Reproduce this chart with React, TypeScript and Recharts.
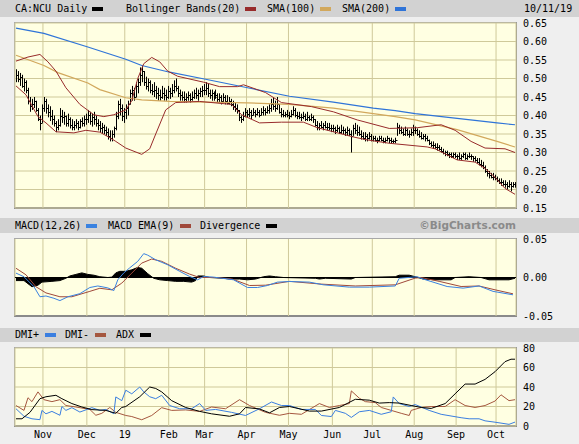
import React from 'react';
import { ComposedChart, Bar, Line, Area, XAxis, YAxis, CartesianGrid, ReferenceLine } from 'recharts';

type Ohlc = [number, number, number]; // high, low, close
type Pt = [number, number]; // trading-day index, value

const barsOct18: Ohlc[] = [[.525,.49,.51],[.52,.49,.50],[.515,.48,.505],[.51,.475,.48],[.50,.465,.49],[.495,.46,.47],[.475,.43,.44],[.45,.41,.425],[.445,.415,.43],[.45,.42,.44],[.44,.41,.415],[.42,.385,.39],[.40,.36,.38],[.43,.38,.42]];
const barsNov18: Ohlc[] = [[.45,.41,.44],[.445,.405,.42],[.43,.395,.41],[.425,.385,.40],[.415,.375,.39],[.40,.37,.38],[.385,.355,.37],[.39,.36,.375],[.42,.37,.40],[.415,.38,.395],[.41,.375,.40],[.40,.37,.38],[.405,.37,.39],[.395,.365,.375],[.39,.36,.37],[.385,.36,.375],[.39,.365,.38],[.385,.36,.37],[.39,.365,.385],[.395,.37,.38],[.40,.37,.39],[.405,.375,.39]];
const barsDec18: Ohlc[] = [[.415,.38,.40],[.41,.375,.385],[.405,.37,.395],[.41,.375,.39],[.40,.37,.38],[.39,.36,.375],[.385,.355,.365],[.38,.35,.37],[.375,.35,.36],[.37,.345,.355],[.365,.335,.345],[.36,.33,.34],[.36,.33,.35],[.37,.34,.365],[.41,.36,.40],[.44,.39,.43],[.445,.40,.42],[.43,.385,.40],[.42,.38,.41]];
const barsJan19: Ohlc[] = [[.43,.39,.42],[.44,.40,.43],[.47,.43,.46],[.48,.44,.47],[.475,.44,.45],[.49,.45,.48],[.50,.46,.49],[.53,.48,.51],[.535,.49,.52],[.52,.48,.49],[.505,.47,.48],[.50,.465,.49],[.495,.46,.47],[.485,.455,.465],[.49,.45,.47],[.48,.445,.46],[.475,.44,.455],[.47,.44,.45],[.48,.445,.46],[.475,.44,.455],[.47,.44,.45],[.48,.445,.465]];
const barsFeb19: Ohlc[] = [[.475,.445,.46],[.485,.45,.47],[.495,.46,.48],[.50,.465,.475],[.48,.45,.46],[.47,.44,.455],[.465,.44,.45],[.465,.435,.445],[.46,.435,.45],[.465,.44,.455],[.46,.435,.445],[.465,.44,.45],[.47,.445,.46],[.475,.445,.455],[.47,.44,.46],[.475,.45,.465],[.48,.45,.47],[.485,.455,.47]];
const barsMar19: Ohlc[] = [[.49,.455,.475],[.485,.45,.46],[.47,.445,.455],[.47,.44,.46],[.465,.44,.45],[.47,.445,.455],[.46,.435,.445],[.46,.435,.45],[.455,.43,.44],[.46,.435,.45],[.455,.43,.44],[.455,.43,.435],[.45,.43,.44],[.445,.425,.43],[.44,.415,.425],[.435,.41,.42],[.43,.405,.415],[.415,.385,.395],[.40,.38,.39],[.41,.385,.40],[.42,.395,.41]];
const barsApr19: Ohlc[] = [[.415,.395,.405],[.42,.395,.41],[.415,.39,.40],[.42,.40,.41],[.415,.395,.405],[.42,.40,.41],[.415,.395,.40],[.42,.40,.41],[.425,.40,.415],[.42,.40,.41],[.425,.405,.415],[.43,.405,.42],[.445,.41,.43],[.45,.415,.425],[.44,.41,.42],[.45,.415,.43],[.43,.405,.41],[.42,.395,.405],[.415,.395,.40],[.41,.395,.405],[.415,.395,.40]];
const barsMay19: Ohlc[] = [[.41,.39,.40],[.415,.395,.405],[.425,.40,.415],[.42,.395,.40],[.41,.39,.40],[.41,.39,.395],[.405,.385,.395],[.41,.39,.40],[.405,.385,.39],[.41,.385,.395],[.40,.385,.39],[.405,.385,.395],[.40,.38,.39],[.39,.37,.375],[.385,.36,.37],[.38,.36,.375],[.385,.365,.37],[.38,.36,.375],[.385,.365,.37],[.38,.36,.37],[.38,.36,.365],[.375,.355,.365]];
const barsJun19: Ohlc[] = [[.375,.355,.365],[.37,.35,.36],[.375,.355,.365],[.37,.35,.355],[.375,.35,.36],[.37,.35,.36],[.365,.345,.355],[.37,.345,.36],[.365,.345,.35],[.36,.30,.345],[.375,.345,.365],[.38,.35,.36],[.375,.345,.355],[.37,.345,.35],[.36,.335,.345],[.355,.335,.34],[.355,.33,.345],[.35,.33,.34],[.355,.335,.345],[.35,.33,.335]];
const barsJul19: Ohlc[] = [[.345,.33,.34],[.345,.33,.335],[.34,.325,.335],[.345,.33,.34],[.345,.33,.335],[.34,.325,.33],[.34,.325,.335],[.345,.33,.34],[.34,.325,.335],[.34,.325,.33],[.335,.325,.33],[.34,.325,.335],[.38,.345,.37],[.375,.35,.36],[.37,.35,.355],[.365,.345,.35],[.37,.345,.36],[.365,.345,.35],[.36,.34,.35],[.365,.345,.355],[.375,.345,.36]];
const barsAug19: Ohlc[] = [[.37,.35,.36],[.365,.345,.35],[.36,.34,.345],[.355,.335,.34],[.35,.335,.345],[.35,.33,.34],[.345,.33,.335],[.335,.32,.325],[.33,.315,.32],[.33,.31,.32],[.325,.31,.315],[.325,.305,.315],[.32,.305,.31],[.315,.30,.305],[.31,.295,.30],[.305,.29,.30],[.305,.29,.295],[.30,.285,.295],[.30,.285,.29],[.30,.285,.295],[.30,.285,.29]];
const barsSep19: Ohlc[] = [[.295,.28,.29],[.30,.28,.285],[.295,.28,.29],[.30,.285,.295],[.30,.28,.285],[.295,.28,.29],[.30,.285,.29],[.295,.28,.29],[.29,.275,.285],[.29,.275,.28],[.285,.27,.275],[.285,.265,.27],[.28,.26,.265],[.275,.255,.26],[.265,.245,.25],[.255,.235,.245],[.25,.23,.24],[.245,.23,.235],[.245,.225,.235],[.24,.225,.23]];
const barsOct19: Ohlc[] = [[.235,.22,.225],[.23,.215,.22],[.23,.21,.22],[.225,.21,.215],[.225,.205,.215],[.22,.20,.21],[.225,.205,.215],[.22,.195,.21],[.22,.205,.215],[.22,.205,.21]];

const monthBars: Ohlc[][] = [barsOct18, barsNov18, barsDec18, barsJan19, barsFeb19, barsMar19, barsApr19, barsMay19, barsJun19, barsJul19, barsAug19, barsSep19, barsOct19];
const monthLabels = ['Oct', 'Nov', 'Dec', '19', 'Feb', 'Mar', 'Apr', 'May', 'Jun', 'Jul', 'Aug', 'Sep', 'Oct'];

const sma200: Pt[] = [[0,.636],[14,.622],[36,.585],[55,.552],[63,.535],[77,.517],[95,.498],[116,.475],[137,.452],[159,.436],[179,.42],[190,.413],[200,.405],[221,.392],[241,.38],[250,.375]];
const sma100: Pt[] = [[0,.563],[14,.535],[21,.516],[36,.488],[42,.47],[55,.448],[63,.442],[77,.438],[95,.436],[116,.434],[137,.43],[159,.42],[179,.405],[190,.397],[200,.388],[221,.362],[241,.33],[250,.315]];
const bbUpper: Pt[] = [[0,.547],[6,.558],[12,.565],[16,.545],[20,.52],[25,.475],[32,.43],[39,.402],[44,.397],[49,.402],[55,.415],[58,.44],[61,.50],[64,.54],[68,.557],[72,.545],[76,.52],[81,.506],[94,.49],[102,.478],[111,.478],[114,.483],[125,.462],[133,.435],[148,.424],[159,.41],[171,.388],[187,.365],[201,.367],[213,.375],[220,.36],[228,.33],[235,.312],[245,.31],[250,.30]];
const bbLower: Pt[] = [[0,.48],[5,.456],[11,.397],[15,.38],[20,.356],[29,.353],[35,.36],[42,.355],[47,.34],[50,.33],[55,.312],[63,.295],[67,.31],[70,.35],[75,.415],[80,.435],[92,.438],[108,.43],[113,.402],[122,.38],[133,.382],[144,.382],[151,.367],[159,.356],[169,.342],[176,.334],[187,.325],[206,.315],[210,.31],[221,.28],[230,.274],[235,.257],[240,.233],[245,.203],[250,.187]];

const macdLine: Pt[] = [[0,.0057],[4,.001],[9,-.012],[12,-.025],[15,-.024],[19,-.027],[22,-.030],[26,-.025],[32,-.021],[37,-.013],[41,-.011],[46,-.0135],[49,-.017],[51,-.003],[54,.006],[57,.0126],[61,.021],[64,.031],[66,.029],[70,.023],[76,.0165],[82,.008],[87,.0013],[91,-.003],[94,.0013],[99,.0005],[109,-.003],[116,-.013],[121,-.013],[126,-.0104],[131,-.006],[137,-.0052],[147,-.006],[154,-.0095],[167,-.0125],[177,-.0125],[190,-.011],[192,-.001],[201,.001],[204,-.002],[216,-.0117],[224,-.0138],[232,-.011],[239,-.018],[249,-.0225]];
const macdSignal: Pt[] = [[0,.012],[5,.0035],[10,-.012],[15,-.02],[22,-.025],[28,-.025],[37,-.018],[42,-.014],[48,-.016],[53,-.0073],[58,.0057],[63,.0187],[68,.024],[73,.021],[80,.012],[87,.0044],[92,0],[100,0],[108,-.0017],[117,-.0104],[125,-.01],[137,-.005],[153,-.0086],[170,-.011],[190,-.0095],[200,-.0008],[203,0],[212,-.005],[223,-.0117],[232,-.011],[240,-.016],[249,-.0212]];
const macdDivergence: Pt[] = [[0,-.004],[4,-.004],[6,-.008],[8,-.012],[11,-.01],[13,-.006],[18,-.005],[22,-.004],[25,-.001],[27,.002],[30,.004],[33,.006],[36,.004],[39,.003],[42,.001],[46,0],[48,.0005],[50,.006],[52,.008],[55,.008],[58,.01],[61,.013],[63,.012],[66,.005],[69,-.001],[72,-.003],[76,-.004],[80,-.005],[84,-.005],[88,-.006],[90,-.004],[91,.002],[94,.002],[97,0],[104,-.001],[107,-.002],[112,-.002],[116,-.003],[120,-.002],[124,.001],[127,.002],[130,.001],[134,0],[150,-.001],[152,-.002],[155,-.001],[168,-.002],[170,0],[190,.001],[192,.003],[197,.003],[200,.001],[204,-.002],[210,-.003],[218,-.003],[220,0],[227,.001],[233,0],[237,-.003],[247,-.003],[250,-.001]];

const dmiPlus: Pt[] = [[0,17.7],[4,10],[8,7.4],[12,6.5],[13,16],[15,12.5],[18,15],[22,11],[23,20],[25,16],[28,18.8],[32,14.3],[38,18.8],[42,16],[45,17],[49,12.6],[50,29.8],[53,26],[55,36.7],[58,33],[62,40],[64,35],[67,30],[70,28],[73,31.5],[77,21],[82,17.7],[88,17.7],[92,23],[95,16],[100,17],[108,14],[115,10.8],[122,17.7],[128,24.6],[133,21],[137,21],[143,17],[150,17],[153,10.8],[158,9.7],[160,16],[165,13],[168,8.8],[172,14.6],[177,16],[183,12],[188,14.6],[189,29.8],[192,23],[197,20],[200,22],[207,16],[213,12],[223,8.5],[227,7.4],[232,7.4],[235,5.3],[240,3.9],[247,1.7],[250,4]];
const dmiMinus: Pt[] = [[0,21],[4,16],[6,29],[8,25],[11,35],[14,27],[18,25],[22,27],[25,21],[30,19.5],[37,17],[40,11],[43,13],[47,19],[50,14],[55,10.8],[58,9.7],[63,6.4],[68,10.8],[73,18.8],[78,16],[85,16.5],[92,15],[98,19.5],[105,17.7],[112,27],[117,21],[125,14],[132,11],[137,13],[143,12],[152,23],[157,19],[162,21],[167,23],[168,36],[172,28.5],[175,25],[180,24],[183,19],[188,16],[193,13],[197,10.8],[198,16],[203,19],[208,20],[215,20],[220,27],[225,21],[230,19],[235,21],[240,25.6],[243,32],[247,26],[250,27]];
const adx: Pt[] = [[0,7.4],[3,7.4],[7,14],[12,28],[15,30],[20,31.5],[23,28],[28,23],[33,19.5],[38,16.8],[45,16],[50,13],[53,19],[55,20],[62,30],[67,40],[70,38.5],[73,35],[78,26],[85,19],[92,15],[98,12.5],[107,10],[112,12.5],[115,19],[122,17.5],[127,13.5],[132,19],[137,20],[147,15.3],[153,15.3],[162,19],[170,27.4],[177,26.5],[182,23.5],[187,24],[192,23.5],[198,21],[203,19],[208,18],[215,23],[220,33],[225,43],[230,43],[235,47.8],[240,55.7],[245,66],[248,68.5],[250,68.5]];

const priceTicks = [0.15, 0.2, 0.25, 0.3, 0.35, 0.4, 0.45, 0.5, 0.55, 0.6, 0.65];
const macdTicks = [-0.05, 0, 0.05];
const dmiTicks = [0, 20, 40, 60, 80];

// ---- build table ----
type Row = { [k: string]: number | null };
const rows: Row[] = [];
const monthStarts: number[] = [];
monthBars.forEach((m) => {
  monthStarts.push(rows.length);
  m.forEach(([h, l, c]) => rows.push({ i: rows.length, high: h, low: l, close: c }));
});
const seriesKeys: [string, Pt[]][] = [
  ['sma200', sma200], ['sma100', sma100], ['bbU', bbUpper], ['bbL', bbLower],
  ['macd', macdLine], ['sig', macdSignal], ['div', macdDivergence],
  ['dp', dmiPlus], ['dm', dmiMinus], ['adx', adx],
];
rows.forEach((r) => seriesKeys.forEach(([k]) => { r[k] = null; }));
seriesKeys.forEach(([k, pts]) => pts.forEach(([i, v]) => { rows[i][k] = v; }));

const N = rows.length;
const xTicks = monthStarts.slice(1).map((s) => s - 0.5);
const xLabel = (v: number) => {
  const k = xTicks.indexOf(v);
  return k >= 0 ? monthLabels[k + 1] : '';
};

const MONO = "'DejaVu Sans Mono', monospace";
const GRID = '#cfc99a';
const PLOT_BG = '#ffffe2';
const C_BB = '#982b2b';
const C_SMA100 = '#d2a85c';
const C_SMA200 = '#2f74d8';
const C_MACD = '#3a82e0';
const C_SIG = '#a0483a';
const C_DMIP = '#3a7ee0';
const C_DMIM = '#a5573f';

const OhlcShape = (props: any) => {
  const { x, y, width, height, payload } = props;
  if (!payload || x == null || y == null || height == null) return null;
  const top = Math.min(y, y + height);
  const h = Math.abs(height);
  const cx = Math.round(x + width / 2) + 0.5;
  const span = payload.high - payload.low;
  const cy = Math.round(top + (span > 0 ? (h * (payload.high - payload.close)) / span : 0)) + 0.5;
  return (
    <g>
      <line x1={cx} x2={cx} y1={top} y2={top + h} stroke="#000" strokeWidth={1} />
      <line x1={cx} x2={cx + 2} y1={cy} y2={cy} stroke="#000" strokeWidth={1} />
    </g>
  );
};

const tickStyle = { fontFamily: MONO, fontSize: 10, fill: '#000' };

const Swatch = ({ left, color, top }: { left: number; color: string; top: number }) => (
  <div style={{ position: 'absolute', left, top, width: 11, height: 4, background: color }} />
);
const Txt = ({ left, children, top, h }: { left: number; children: React.ReactNode; top: number; h: number }) => (
  <div style={{ position: 'absolute', left, top, height: h, lineHeight: `${h}px`, fontFamily: MONO, fontSize: 10, color: '#000', whiteSpace: 'pre' }}>{children}</div>
);

const PlotFrame = ({ top, height }: { top: number; height: number }) => (
  <div style={{ position: 'absolute', left: 14, top: top - 1, width: 503, height: height + 2, boxSizing: 'border-box', background: PLOT_BG, borderTop: '1px solid #a8a8a8', borderLeft: '1px solid #a8a8a8', borderRight: '1px solid #8a8a8a', borderBottom: '2px solid #8a8a8a' }} />
);

const xAxisHidden = (
  <XAxis type="number" dataKey="i" domain={[-0.5, N - 0.5]} ticks={xTicks} hide height={0} allowDataOverflow />
);

export default function App() {
  return (
    <div style={{ position: 'absolute', left: 0, top: 0, width: 579, height: 444, background: '#efefef', overflow: 'hidden' }}>
      {/* headers */}
      <div style={{ position: 'absolute', left: 0, top: 0, width: 579, height: 17, background: '#d2d2d2' }} />
      <Txt left={15} top={0} h={17}>CA:NCU Daily</Txt>
      <Swatch left={92} top={7} color="#000" />
      <Txt left={126} top={0} h={17}>Bollinger Bands(20)</Txt>
      <Swatch left={245} top={7} color={C_BB} />
      <Txt left={267} top={0} h={17}>SMA(100)</Txt>
      <Swatch left={320} top={7} color={C_SMA100} />
      <Txt left={342} top={0} h={17}>SMA(200)</Txt>
      <Swatch left={395} top={7} color={C_SMA200} />
      <Txt left={524} top={0} h={17}>10/11/19</Txt>

      <div style={{ position: 'absolute', left: 0, top: 218, width: 579, height: 15, background: '#d2d2d2' }} />
      <Txt left={15} top={218} h={15}>MACD(12,26)</Txt>
      <Swatch left={86} top={224} color={C_MACD} />
      <Txt left={108} top={218} h={15}>MACD EMA(9)</Txt>
      <Swatch left={180} top={224} color={C_SIG} />
      <Txt left={200} top={218} h={15}>Divergence</Txt>
      <Swatch left={266} top={224} color="#000" />
      <div style={{ position: 'absolute', right: 63, top: 218, height: 15, lineHeight: '15px', fontFamily: "'DejaVu Sans', sans-serif", fontWeight: 'bold', fontSize: 10.5, color: '#8a8a8a' }}>©BigCharts.com</div>

      <div style={{ position: 'absolute', left: 0, top: 328, width: 579, height: 14, background: '#d2d2d2' }} />
      <Txt left={15} top={328} h={14}>DMI+</Txt>
      <Swatch left={45} top={333} color={C_DMIP} />
      <Txt left={65} top={328} h={14}>DMI-</Txt>
      <Swatch left={95} top={333} color={C_DMIM} />
      <Txt left={116} top={328} h={14}>ADX</Txt>
      <Swatch left={140} top={333} color="#000" />

      <PlotFrame top={23} height={185} />
      <PlotFrame top={239} height={77} />
      <PlotFrame top={348} height={78} />

      {/* price panel */}
      <div style={{ position: 'absolute', left: 0, top: 0 }}>
        <ComposedChart width={579} height={216} data={rows} margin={{ top: 23, right: 0, bottom: 8, left: 15 }}>
          <CartesianGrid stroke={GRID} strokeWidth={1} />
          {xAxisHidden}
          <YAxis orientation="right" width={63} domain={[0.15, 0.65]} ticks={priceTicks} interval={0} axisLine={false} tickLine={false} tickMargin={1} tick={tickStyle} tickFormatter={(v: number) => v.toFixed(2)} allowDataOverflow />
          <Line dataKey="sma200" stroke={C_SMA200} strokeWidth={1.2} dot={false} connectNulls isAnimationActive={false} />
          <Line dataKey="sma100" stroke={C_SMA100} strokeWidth={1.2} dot={false} connectNulls isAnimationActive={false} />
          <Line dataKey="bbU" stroke={C_BB} strokeWidth={1} dot={false} connectNulls isAnimationActive={false} />
          <Line dataKey="bbL" stroke={C_BB} strokeWidth={1} dot={false} connectNulls isAnimationActive={false} />
          <Bar dataKey={(d: any) => [d.low, d.high]} barSize={2} shape={OhlcShape} isAnimationActive={false} />
        </ComposedChart>
      </div>

      {/* MACD panel */}
      <div style={{ position: 'absolute', left: 0, top: 233 }}>
        <ComposedChart width={579} height={92} data={rows} margin={{ top: 6, right: 0, bottom: 9, left: 15 }}>
          <CartesianGrid stroke={GRID} horizontal={false} />
          {xAxisHidden}
          <YAxis orientation="right" width={63} domain={[-0.05, 0.05]} ticks={macdTicks} interval={0} axisLine={false} tickLine={false} tickMargin={1} tick={tickStyle} tickFormatter={(v: number) => v.toFixed(2)} allowDataOverflow />
          <Area dataKey="div" type="linear" baseValue={0} stroke="#000" strokeWidth={1} fill="#000" fillOpacity={1} connectNulls isAnimationActive={false} />
          <ReferenceLine y={0} stroke="#000" strokeWidth={1} />
          <Line dataKey="sig" stroke={C_SIG} strokeWidth={1} dot={false} connectNulls isAnimationActive={false} />
          <Line dataKey="macd" stroke={C_MACD} strokeWidth={1} dot={false} connectNulls isAnimationActive={false} />
        </ComposedChart>
      </div>

      {/* DMI panel */}
      <div style={{ position: 'absolute', left: 0, top: 340 }}>
        <ComposedChart width={579} height={104} data={rows} margin={{ top: 8, right: 0, bottom: 0, left: 15 }}>
          <CartesianGrid stroke={GRID} />
          <XAxis type="number" dataKey="i" domain={[-0.5, N - 0.5]} ticks={xTicks} interval={0} height={18} axisLine={false} tickLine={false} tickSize={5} tickMargin={0} tick={tickStyle} tickFormatter={xLabel} allowDataOverflow />
          <YAxis orientation="right" width={63} domain={[0, 80]} ticks={dmiTicks} interval={0} axisLine={false} tickLine={false} tickMargin={1} tick={tickStyle} allowDataOverflow />
          <Line dataKey="dm" stroke={C_DMIM} strokeWidth={1} dot={false} connectNulls isAnimationActive={false} />
          <Line dataKey="dp" stroke={C_DMIP} strokeWidth={1} dot={false} connectNulls isAnimationActive={false} />
          <Line dataKey="adx" stroke="#000" strokeWidth={1} dot={false} connectNulls isAnimationActive={false} />
        </ComposedChart>
      </div>
    </div>
  );
}
